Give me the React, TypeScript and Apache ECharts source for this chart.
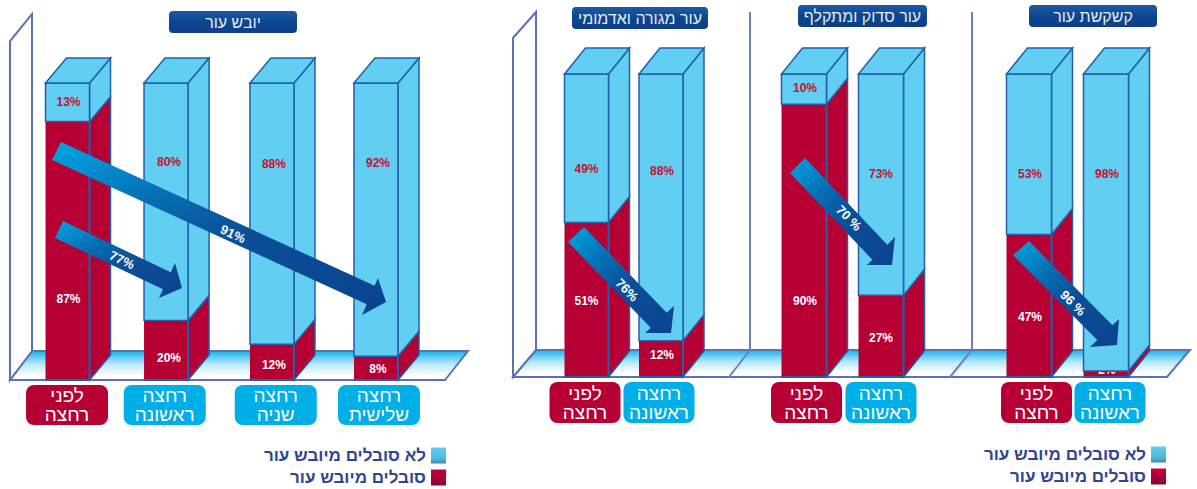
import React, { useEffect, useRef } from "react";
import * as echarts from "echarts";

// ---------- data ----------
const sufferName = "סובלים מיובש עור";
const notSufferName = "לא סובלים מיובש עור";

const panel1Title = "יובש עור";
const panel1Categories = ["לפני\nרחצה", "רחצה\nראשונה", "רחצה\nשניה", "רחצה\nשלישית"];
const panel1Suffer = [87, 20, 12, 8];
const panel1NotSuffer = [13, 80, 88, 92];

const panel2Title = "עור מגורה ואדמומי";
const panel2Categories = ["לפני\nרחצה", "רחצה\nראשונה"];
const panel2Suffer = [51, 12];
const panel2NotSuffer = [49, 88];

const panel3Title = "עור סדוק ומתקלף";
const panel3Categories = ["לפני\nרחצה", "רחצה\nראשונה"];
const panel3Suffer = [90, 27];
const panel3NotSuffer = [10, 73];

const panel4Title = "קשקשת עור";
const panel4Categories = ["לפני\nרחצה", "רחצה\nראשונה"];
const panel4Suffer = [47, 2];
const panel4NotSuffer = [53, 98];

const arrowTexts = ["91%", "77%", "76%", "70 %", "96 %"];

// ---------- layout ----------
const RED = "#b60034";
const BLUE = "#62cef2";
const PILL_BLUE = "#00aee8";
const EDGE = "#2160a8";
const WALL = "#5a72b8";
const FONT = "Liberation Sans";

const layouts = [
  {
    title: panel1Title, categories: panel1Categories, suffer: panel1Suffer, notSuffer: panel1NotSuffer,
    gridLeft: 16.1, gridWidth: 411.3, gridTop: 83, gridHeight: 297,
    barW: 44, dx: 21, dy: -25,
    nudge: [0, -4.3, -1.2, 0], pillNudge: [-0.5, -1.3, 3.8, 3],
    pillW: 82, pillTop: 385, pillH: 40,
    redLabelAt: [27.3, 7.4, 5.1, 3.7], blueLabelAt: [93.6, 73.4, 72.7, 73.1],
    labelNudge: [1, 3, 2, 2],
    titleBox: [169, 11, 128, 22],
  },
  {
    title: panel2Title, categories: panel2Categories, suffer: panel2Suffer, notSuffer: panel2NotSuffer,
    gridLeft: 549.25, gridWidth: 149, gridTop: 74, gridHeight: 303,
    barW: 44, dx: 21, dy: -26,
    nudge: [0, 0], pillNudge: [-1.5, -2],
    pillW: 71, pillTop: 382, pillH: 41,
    redLabelAt: [25.1, 7.3], blueLabelAt: [68.7, 68],
    labelNudge: [0, 1],
    titleBox: [572, 7, 136, 22],
  },
  {
    title: panel3Title, categories: panel3Categories, suffer: panel3Suffer, notSuffer: panel3NotSuffer,
    gridLeft: 765.5, gridWidth: 154, gridTop: 74, gridHeight: 303,
    barW: 45, dx: 21, dy: -26,
    nudge: [0, 0], pillNudge: [2.5, 0],
    pillW: 71, pillTop: 382, pillH: 41,
    redLabelAt: [25.1, 12.9], blueLabelAt: [95.4, 67],
    labelNudge: [1, 0],
    titleBox: [798, 5, 129, 22],
  },
  {
    title: panel4Title, categories: panel4Categories, suffer: panel4Suffer, notSuffer: panel4NotSuffer,
    gridLeft: 990.5, gridWidth: 154, gridTop: 74, gridHeight: 303,
    barW: 45, dx: 21, dy: -26,
    nudge: [0, 0], pillNudge: [7.5, 4],
    pillW: 71, pillTop: 382, pillH: 41,
    redLabelAt: [19.8, 2.2], blueLabelAt: [67, 67],
    labelNudge: [1, 1],
    titleBox: [1029, 5, 128, 22],
  },
];

// tailA, tailB, barbA, tip, barbB, label centre, label rotation (deg clockwise)
const arrowShapes = [
  { t: [[61, 142], [52, 160]], a: [378, 278], tip: [386, 302], b: [362, 315], l: [233, 234], r: 25 },
  { t: [[63, 221], [55, 238]], a: [175, 263], tip: [182, 288], b: [159, 298], l: [122, 260], r: 25 },
  { t: [[584, 227], [568, 242]], a: [674, 306], tip: [671, 333], b: [645, 333], l: [627, 290], r: 45 },
  { t: [[805, 158], [790, 173]], a: [895, 237], tip: [892, 265], b: [867, 265], l: [849, 218], r: 45 },
  { t: [[1029, 241], [1013, 255]], a: [1119, 319], tip: [1117, 345], b: [1090, 347], l: [1073, 303], r: 45 },
];

function intersect(p: number[], d: number[], a: number[], b: number[]) {
  const ex = b[0] - a[0], ey = b[1] - a[1];
  const den = d[0] * ey - d[1] * ex;
  const t = ((a[0] - p[0]) * ey - (a[1] - p[1]) * ex) / den;
  return [p[0] + d[0] * t, p[1] + d[1] * t];
}

function arrowGraphics() {
  const out: any[] = [];
  arrowShapes.forEach((s, i) => {
    const [ta, tb] = s.t;
    const c = [(ta[0] + tb[0]) / 2, (ta[1] + tb[1]) / 2];
    const d = [s.tip[0] - c[0], s.tip[1] - c[1]];
    const na = intersect(ta, d, s.a, s.b);
    const nb = intersect(tb, d, s.a, s.b);
    out.push({
      type: "polygon", z: 10,
      shape: { points: [ta, na, s.a, s.tip, s.b, nb, tb] },
      style: {
        fill: new echarts.graphic.LinearGradient(0, 0, 1, 1, [
          { offset: 0, color: "#00a6e2" },
          { offset: 0.3, color: "#0670b4" },
          { offset: 0.55, color: "#0b4f98" },
          { offset: 1, color: "#0b4290" },
        ]),
      },
    });
    out.push({
      type: "text", z: 11, x: s.l[0], y: s.l[1], rotation: (-s.r * Math.PI) / 180,
      style: {
        text: arrowTexts[i], fill: "#ffffff", font: `bold 13px "${FONT}"`,
        align: "center", verticalAlign: "middle",
      },
    });
  });
  return out;
}

function stageGraphics() {
  const out: any[] = [];
  const floorFill = () =>
    new echarts.graphic.LinearGradient(0, 0, 0, 1, [
      { offset: 0, color: "#12b4ea" },
      { offset: 0.45, color: "#b8e8f8" },
      { offset: 0.85, color: "#ffffff" },
      { offset: 1, color: "#ffffff" },
    ]);
  const stage = (xL: number, xBack: number, xR: number, xRB: number, base: number, back: number, top: number, sideTop: number) => {
    out.push({
      type: "polygon", z: -1,
      shape: { points: [[xL, base], [xR, base], [xRB, back], [xBack, back]] },
      style: { fill: floorFill(), stroke: WALL, lineWidth: 2 },
    });
    out.push({
      type: "polygon", z: -1,
      shape: { points: [[xL, base], [xL, sideTop], [xBack, top], [xBack, back]] },
      style: { fill: "#ffffff", stroke: WALL, lineWidth: 2 },
    });
  };
  stage(10, 32, 445, 468, 380, 351, 14, 41);
  stage(513, 536, 1167, 1190, 377, 350, 12, 38);
  [[750, 729], [972, 950]].forEach(([x, xb]) => {
    out.push({
      type: "polyline", z: -0.5,
      shape: { points: [[x, 12], [x, 350], [xb, 377]] },
      style: { fill: "none", stroke: "#6b80c0", lineWidth: 2 },
    });
  });
  layouts.forEach((p) => {
    const [x, y, w, h] = p.titleBox;
    out.push({
      type: "rect", z: 1,
      shape: { x, y, width: w, height: h, r: 4 },
      style: {
        fill: new echarts.graphic.LinearGradient(0, 0, 0, 1, [
          { offset: 0, color: "#1e5aa6" },
          { offset: 0.5, color: "#0c468f" },
          { offset: 1, color: "#0e3f88" },
        ]),
      },
    });
    out.push({
      type: "text", z: 2, x: x + w / 2, y: y + h / 2,
      style: {
        text: p.title, fill: "#e4ecf6", font: `16px "${FONT}"`,
        align: "center", verticalAlign: "middle",
      },
    });
  });
  return out;
}

function barRenderer(p: any, isRed: boolean) {
  return (_params: any, api: any) => {
    const i = api.value(0), lo = api.value(1), hi = api.value(2);
    const cx = api.coord([i, 0])[0] + p.nudge[i];
    const x0 = cx - p.barW / 2, x1 = cx + p.barW / 2;
    const y0 = api.coord([i, lo])[1], y1 = api.coord([i, hi])[1];
    const fill = isRed ? RED : BLUE;
    const children: any[] = [
      {
        type: "polygon",
        shape: { points: [[x1, y0], [x1, y1], [x1 + p.dx, y1 + p.dy], [x1 + p.dx, y0 + p.dy]] },
        style: { fill, stroke: EDGE, lineWidth: 1.5 },
      },
    ];
    if (isRed) {
      children.push({ type: "rect", shape: { x: x0, y: y1, width: p.barW, height: y0 - y1 }, style: { fill: RED } });
      children.push({
        type: "polyline",
        shape: { points: [[x0, y0], [x1, y0], [x1, y1]] },
        style: { fill: "none", stroke: EDGE, lineWidth: 2 },
      });
    } else {
      children.push({
        type: "rect", shape: { x: x0, y: y1, width: p.barW, height: y0 - y1 },
        style: { fill: BLUE, stroke: EDGE, lineWidth: 1.5 },
      });
      children.push({
        type: "polygon",
        shape: { points: [[x0, y1], [x1, y1], [x1 + p.dx, y1 + p.dy], [x0 + p.dx, y1 + p.dy]] },
        style: { fill: BLUE, stroke: EDGE, lineWidth: 1.5 },
      });
    }
    const at = (isRed ? p.redLabelAt : p.blueLabelAt)[i];
    children.push({
      type: "text",
      style: {
        x: cx + p.labelNudge[i], y: api.coord([i, at])[1],
        text: `${hi - lo}%`, fill: isRed ? "#ffffff" : "#c8102e",
        font: `bold 12px "${FONT}"`, align: "center", verticalAlign: "middle",
      },
    });
    return { type: "group", children };
  };
}

function pillRenderer(p: any) {
  return (_params: any, api: any) => {
    const i = api.value(0);
    const cx = api.coord([i, 0])[0] + p.nudge[i] + p.pillNudge[i];
    return {
      type: "group",
      children: [
        {
          type: "rect",
          shape: { x: cx - p.pillW / 2, y: p.pillTop, width: p.pillW, height: p.pillH, r: 8 },
          style: { fill: i === 0 ? RED : PILL_BLUE },
        },
        {
          type: "text",
          style: {
            x: cx, y: p.pillTop + p.pillH / 2, text: p.categories[i], fill: "#ffffff",
            font: `19px "${FONT}"`, lineHeight: 19, align: "center", verticalAlign: "middle",
          },
        },
      ],
    };
  };
}

function legendFor(right: number, top: number) {
  return {
    show: true, orient: "vertical", right, top, padding: 0, align: "right",
    itemWidth: 15, itemHeight: 16, itemGap: 5, selectedMode: false,
    textStyle: { color: "#2f4597", fontSize: 17, fontWeight: "bold", fontFamily: FONT },
    data: [
      {
        name: notSufferName, icon: "rect",
        itemStyle: {
          color: new echarts.graphic.LinearGradient(0, 0, 0, 1, [
            { offset: 0, color: "#62cef2" }, { offset: 0.7, color: "#4fb8d8" }, { offset: 1, color: "#3a8aa5" },
          ]),
        },
      },
      {
        name: sufferName, icon: "rect",
        itemStyle: {
          color: new echarts.graphic.LinearGradient(0, 0, 0, 1, [
            { offset: 0, color: "#c8003a" }, { offset: 1, color: "#8c0030" },
          ]),
        },
      },
    ],
  };
}

function buildOption() {
  const grid: any[] = [], xAxis: any[] = [], yAxis: any[] = [], series: any[] = [];
  layouts.forEach((p, g) => {
    grid.push({ left: p.gridLeft, width: p.gridWidth, top: p.gridTop, height: p.gridHeight });
    xAxis.push({ type: "category", gridIndex: g, data: p.categories, show: false });
    yAxis.push({ type: "value", gridIndex: g, min: 0, max: 100, show: false });
    const common = { type: "custom", xAxisIndex: g, yAxisIndex: g, silent: true };
    series.push({
      ...common, name: sufferName, itemStyle: { color: RED },
      renderItem: barRenderer(p, true),
      data: p.suffer.map((v: number, i: number) => [i, 0, v]),
    });
    series.push({
      ...common, name: notSufferName, itemStyle: { color: BLUE },
      renderItem: barRenderer(p, false),
      data: p.notSuffer.map((v: number, i: number) => [i, p.suffer[i], p.suffer[i] + v]),
    });
    series.push({
      ...common, name: "pills",
      renderItem: pillRenderer(p),
      data: p.categories.map((_: string, i: number) => [i]),
    });
  });
  return {
    animation: false,
    backgroundColor: "#ffffff",
    textStyle: { fontFamily: FONT },
    grid, xAxis, yAxis, series,
    legend: [legendFor(1197 - 446, 447), legendFor(1197 - 1166, 446)],
    graphic: { elements: [...stageGraphics(), ...arrowGraphics()] },
  };
}

export default function App() {
  const ref = useRef<HTMLDivElement>(null);
  useEffect(() => {
    const chart = echarts.init(ref.current!, undefined, { renderer: "svg" });
    chart.setOption(buildOption() as any);
    return () => chart.dispose();
  }, []);
  return <div ref={ref} style={{ position: "absolute", left: 0, top: 0, width: 1197, height: 489 }} />;
}
